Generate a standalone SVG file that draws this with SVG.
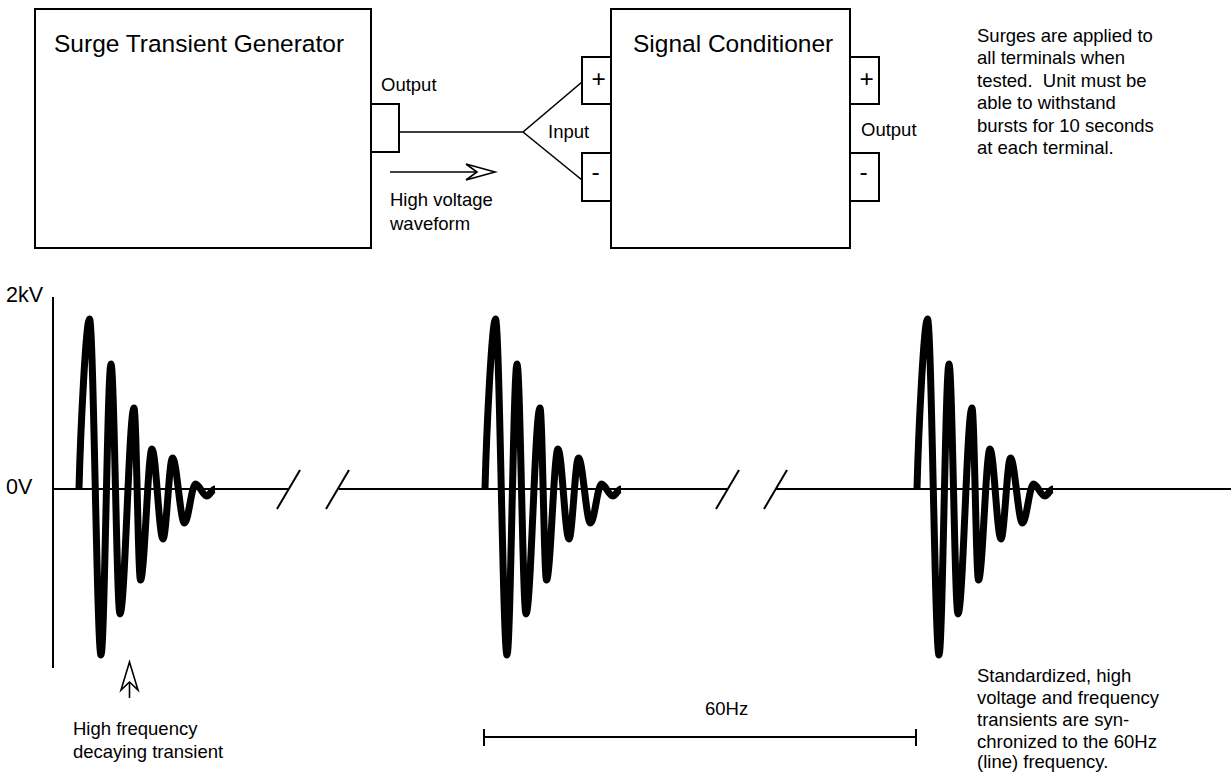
<svg xmlns="http://www.w3.org/2000/svg" xmlns:xlink="http://www.w3.org/1999/xlink" width="1231" height="773" viewBox="0 0 1231 773">
<style>
  .box { fill: #fff; stroke: #000; stroke-width: 2; }
  .ln { fill: none; stroke: #000; stroke-width: 1.6; }
  .ax { fill: none; stroke: #000; stroke-width: 2; }
  .head { fill: #fff; stroke: #000; stroke-width: 1.6; stroke-linejoin: miter; }
  .wave { fill: none; stroke: #000; stroke-width: 7; stroke-linejoin: round; stroke-linecap: butt; }
  .big { font-family: "Liberation Sans", Arial, sans-serif; font-size: 24.5px; fill: #000; }
  .sm { font-family: "Liberation Sans", Arial, sans-serif; font-size: 18.5px; fill: #000; white-space: pre; }
  .lbl { font-family: "Liberation Sans", Arial, sans-serif; font-size: 21.5px; fill: #000; }
</style>
<defs>
  <path id="wave" class="wave" d="M79,489 C80.5,430 86,319 89.5,319 C93.5,319 97,655 101,655 C104.5,655 107.5,364 111,364 C114.2,364 116.8,614 120,614 C124.9,614 129.1,408 134,408 C136.3,408 138.2,580 140.5,580 C144.5,580 148,449 152,449 C155.9,449 159.1,539 163,539 C166.3,539 169.2,458 172.5,458 C176.7,458 180.3,523 184.5,523 C188.4,523 191.6,484 195.5,484 C199.4,484 202.8,496 206.7,496 C209.6,496 212.1,489 215,489"/>
</defs>

<g id="generator">
  <rect class="box" x="35" y="9" width="336" height="239"/>
  <text class="big" x="54" y="52">Surge Transient Generator</text>
  <rect class="box" x="371" y="104" width="28" height="48"/>
  <text class="sm" x="381" y="91">Output</text>
</g>

<g id="conditioner">
  <rect class="box" x="611" y="9" width="239" height="239"/>
  <text class="big" x="633" y="52">Signal Conditioner</text>
  <rect class="box" x="582" y="57" width="29" height="47"/>
  <text class="big" x="591.5" y="87">+</text>
  <rect class="box" x="582" y="153" width="29" height="48"/>
  <text class="big" x="591.5" y="180">-</text>
  <text class="sm" x="548" y="138">Input</text>
  <rect class="box" x="850" y="57" width="29" height="47"/>
  <text class="big" x="859.5" y="87">+</text>
  <rect class="box" x="850" y="153" width="29" height="48"/>
  <text class="big" x="859.5" y="180">-</text>
  <text class="sm" x="861" y="136">Output</text>
</g>

<g id="note-top">
  <text class="sm" x="977" y="42">Surges are applied to</text>
  <text class="sm" x="977" y="64.4">all terminals when</text>
  <text class="sm" x="977" y="86.8" xml:space="preserve">tested.  Unit must be</text>
  <text class="sm" x="977" y="109.2">able to withstand</text>
  <text class="sm" x="977" y="131.6">bursts for 10 seconds</text>
  <text class="sm" x="977" y="154">at each terminal.</text>
</g>

<g id="connectors">
  <polyline class="ln" points="399,132 523,132 582,82"/>
  <line class="ln" x1="523" y1="132" x2="582" y2="180"/>
  <line class="ln" x1="390" y1="172" x2="477" y2="172"/>
  <polygon class="head" points="495,172 466,164 477,172 466,180"/>
  <line class="ln" x1="129.5" y1="682" x2="129.5" y2="698"/>
  <polygon class="head" points="129.5,662 121,690 129.5,682 138,690"/>
</g>

<g id="wave-label">
  <text class="sm" x="390" y="206">High voltage</text>
  <text class="sm" x="390" y="230">waveform</text>
</g>

<g id="axes">
  <line class="ax" x1="53" y1="297" x2="53" y2="668"/>
  <polyline class="ax" points="53,489 288,489"/>
  <line class="ax" x1="277" y1="509" x2="300" y2="470"/>
  <line class="ax" x1="326" y1="509" x2="349" y2="470"/>
  <polyline class="ax" points="339,489 727,489"/>
  <line class="ax" x1="716" y1="509" x2="739" y2="470"/>
  <line class="ax" x1="764" y1="509" x2="787" y2="470"/>
  <polyline class="ax" points="776,489 1231,489"/>
  <text class="lbl" x="6" y="302">2kV</text>
  <text class="lbl" x="6" y="494">0V</text>
</g>

<g id="waveforms">
  <use xlink:href="#wave" href="#wave"/>
  <use xlink:href="#wave" href="#wave" x="406"/>
  <use xlink:href="#wave" href="#wave" x="838"/>
</g>

<g id="period">
  <line class="ax" x1="484" y1="737" x2="916" y2="737"/>
  <line class="ax" x1="484" y1="729" x2="484" y2="746"/>
  <line class="ax" x1="916" y1="729" x2="916" y2="746"/>
  <text class="sm" x="705" y="715">60Hz</text>
</g>

<g id="note-bottom">
  <text class="sm" x="73" y="735">High frequency</text>
  <text class="sm" x="73" y="758">decaying transient</text>
  <text class="sm" x="977" y="682">Standardized, high</text>
  <text class="sm" x="977" y="704">voltage and frequency</text>
  <text class="sm" x="977" y="726">transients are syn-</text>
  <text class="sm" x="977" y="748">chronized to the 60Hz</text>
  <text class="sm" x="977" y="768">(line) frequency.</text>
</g>
</svg>
